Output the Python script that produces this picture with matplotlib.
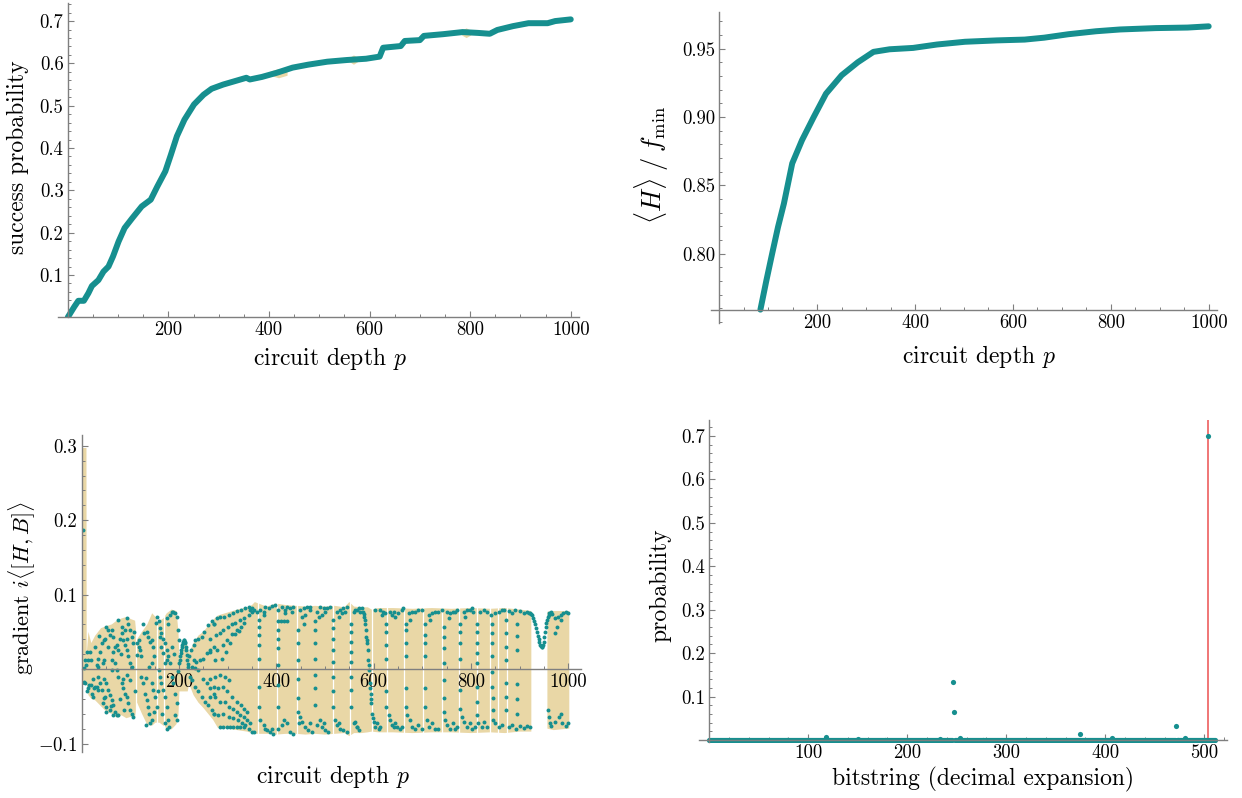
import numpy as np
import matplotlib
matplotlib.use("Agg")
import matplotlib.pyplot as plt
from matplotlib.ticker import FixedLocator, MultipleLocator

plt.rcParams['font.family'] = 'cmr10'
plt.rcParams['mathtext.fontset'] = 'cm'
plt.rcParams['axes.unicode_minus'] = False
plt.rcParams['axes.formatter.use_mathtext'] = True

TEAL = '#168f8f'
TAN = '#e9d7a6'
RED = '#ef6b6b'
GRAY = '#7f7f7f'

# ---- top left: success probability vs circuit depth
succ_p = [0, 13, 21, 32, 41, 48, 61, 71, 81, 90, 101, 113, 128, 147, 165, 178, 194, 205,
          217, 232, 251, 270, 286, 309, 332, 355, 362, 386, 416, 447, 478, 516, 555, 593,
          620, 627, 662, 670, 700, 708, 746, 785, 816, 839, 854, 885, 916, 954, 969, 1000]
succ_v = [0.0, 0.025, 0.039, 0.039, 0.057, 0.074, 0.088, 0.108, 0.12, 0.144, 0.179, 0.211,
          0.234, 0.262, 0.278, 0.309, 0.345, 0.384, 0.428, 0.467, 0.503, 0.526, 0.54, 0.55,
          0.558, 0.566, 0.562, 0.568, 0.578, 0.59, 0.597, 0.604, 0.608, 0.611, 0.616, 0.637,
          0.641, 0.653, 0.655, 0.665, 0.669, 0.674, 0.672, 0.67, 0.679, 0.688, 0.695, 0.695,
          0.7, 0.704]
# faint tan wiggles behind the curve: (start, end, low, high)
succ_tan = [(402, 436, 0.566, 0.588), (560, 576, 0.598, 0.62), (783, 801, 0.661, 0.684)]

# ---- top right: <H>/f_min
energy_p = [84, 96, 108, 120, 132, 149, 169, 193, 218, 250, 283, 315, 348, 396, 445, 502,
            567, 624, 664, 713, 770, 819, 892, 957, 1000]
energy_v = [0.759, 0.78, 0.80, 0.8195, 0.8366, 0.866, 0.883, 0.90, 0.917, 0.9305, 0.94,
            0.9476, 0.9495, 0.9505, 0.953, 0.955, 0.956, 0.9566, 0.958, 0.9605, 0.9627,
            0.964, 0.965, 0.9654, 0.9663]

# ---- bottom left: gradient i<[H,B]>
grad_early = [
    (3.5, 0.187), (5.5, 0.001), (7, 0.012), (9, 0.005), (11, 0.023), (14, 0.012), (17, 0.023),
    (19, 0.012), (5, -0.017), (8, -0.019), (14, -0.026), (19, -0.022), (21, -0.033), (24, -0.037),
    (26, -0.026), (28, -0.024), (31, -0.024), (33, -0.028), (24, -0.013), (31, 0.005), (34, 0.014),
    (38, 0.023), (41, 0.035), (45, 0.039), (48, 0.041), (47, 0.012), (43, 0.008), (34, 0.003),
    (34, -0.010), (38, -0.019), (41, -0.028), (45, -0.039), (48, -0.037), (51, -0.051),
    (47, -0.013), (51, -0.019), (51, 0.057), (55, 0.052), (58, 0.046), (62, 0.052), (65, 0.043),
    (69, 0.030), (72, 0.032), (74, 0.026), (65, 0.023), (62, 0.012), (69, 0.008), (72, -0.001),
    (75, -0.010), (62, -0.001), (55, -0.028), (58, -0.035), (62, -0.042), (65, -0.048),
    (69, -0.057), (72, -0.062), (75, -0.062), (58, -0.055), (65, -0.062), (51, -0.057),
    (75, 0.066), (82, 0.048), (86, 0.039), (89, 0.032), (93, 0.026), (96, 0.017), (99, 0.008),
    (103, 0.003), (79, 0.041), (82, 0.057), (89, 0.052), (93, 0.041), (82, -0.019), (86, -0.026),
    (89, -0.033), (93, -0.037), (96, -0.046), (99, -0.055), (103, -0.060), (106, -0.064),
    (86, -0.013), (93, -0.008), (99, -0.015), (93, 0.068), (96, 0.061), (99, 0.052), (103, 0.043),
    (106, 0.035), (113, 0.035), (117, 0.030), (120, 0.026), (123, 0.017), (113, 0.019),
    (118, 0.039), (123, -0.010), (127, -0.019), (130, -0.033), (134, -0.042), (136, -0.051),
    (139, -0.060), (141, -0.073), (132, -0.075), (129, 0.048), (134, 0.050), (137, 0.043),
    (141, 0.037), (144, 0.039), (147, 0.030), (149, 0.017), (145, 0.008), (144, -0.019),
    (147, -0.028), (151, -0.037), (154, -0.051), (149, -0.057), (145, -0.069), (154, 0.070),
    (158, 0.064), (161, 0.055), (164, 0.048), (168, 0.041), (171, 0.035), (175, 0.026),
    (178, 0.017), (182, 0.008), (161, 0.043), (164, 0.030), (168, 0.021), (171, 0.008),
    (175, 0.012), (158, -0.001), (161, -0.010), (164, -0.019), (168, -0.028), (171, -0.037),
    (175, -0.051), (178, -0.069), (175, -0.080), (171, -0.073), (175, 0.068), (178, 0.061),
    (182, 0.073), (185, 0.077), (188, 0.077), (192, 0.075), (195, 0.070), (199, 0.052),
    (200, 0.039), (185, -0.010), (188, -0.019), (192, -0.033), (195, -0.046), (197, -0.069),
    (192, -0.062), (12, -0.030), (16, -0.021), (28, 0.030), (36, 0.045), (44, -0.045),
    (55, 0.030), (60, -0.050), (78, -0.040), (80, 0.020), (88, -0.055), (108, 0.050),
    (110, -0.030), (126, 0.061), (132, -0.012), (138, 0.003), (152, 0.062), (156, -0.030),
    (166, -0.061), (180, -0.078), (186, 0.030), (190, 0.020), (198, -0.002),
]
grad_bump = [
    (201, 0.008), (202, 0.012), (203, 0.017), (204, 0.021), (205, 0.026), (206, 0.029),
    (207, 0.032), (208, 0.035), (209, 0.037), (210, 0.039), (211, 0.039), (212, 0.037),
    (213, 0.035), (214, 0.030), (215, 0.026), (216, 0.019), (217, 0.012), (218, 0.007),
    (219, 0.003),
]
grad_fan = [
    (221, 0.017), (225, 0.026), (230, 0.032), (234, 0.039), (240, 0.041), (247, 0.043),
    (252, 0.050), (259, 0.059), (267, 0.064), (273, 0.061), (223, -0.010), (226, -0.015),
    (233, -0.024), (240, -0.030), (247, -0.037), (254, -0.044), (260, -0.048), (267, -0.055),
    (273, -0.060), (230, 0.012), (236, 0.010), (243, 0.012), (250, 0.014), (257, 0.021),
    (264, 0.026), (271, 0.030), (226, 0.003), (233, 0.001), (240, -0.001), (250, -0.013),
    (257, -0.019), (264, -0.026), (271, -0.033),
    (271, 0.061), (278, 0.068), (285, 0.070), (293, 0.070), (302, 0.073), (311, 0.076),
    (319, 0.078), (327, 0.080), (336, 0.082), (343, 0.083), (350, 0.082), (354, 0.079),
    (264, 0.041), (276, 0.046), (285, 0.049), (291, 0.052), (300, 0.056), (308, 0.060),
    (316, 0.062), (326, 0.066), (333, 0.068), (343, 0.073), (350, 0.077),
    (264, 0.023), (278, 0.026), (290, 0.032), (298, 0.039), (309, 0.047), (319, 0.052),
    (327, 0.056), (333, 0.062), (345, 0.079),
    (274, 0.012), (288, 0.014), (297, 0.023), (305, 0.035), (315, 0.047), (324, 0.051),
    (264, -0.013), (274, -0.010), (285, -0.008), (295, -0.010), (302, -0.015),
    (271, -0.024), (281, -0.026), (291, -0.024), (298, -0.030), (309, -0.037), (319, -0.044),
    (327, -0.048), (333, -0.053), (339, -0.057),
    (264, -0.037), (274, -0.037), (285, -0.044), (295, -0.044), (302, -0.051), (312, -0.053),
    (319, -0.057), (326, -0.062), (333, -0.064), (339, -0.069), (345, -0.073),
    (271, -0.060), (281, -0.062), (291, -0.060), (302, -0.064), (312, -0.066), (322, -0.069),
    (329, -0.072), (336, -0.075), (343, -0.080), (350, -0.084), (354, -0.084),
    (285, -0.078), (291, -0.078), (298, -0.078), (305, -0.078), (312, -0.078), (319, -0.078),
    (326, -0.078), (333, -0.078),
]
grad_cycles = [
    (365, 0.066), (365, 0.057), (365, 0.046), (365, 0.032), (365, 0.014), (365, -0.024),
    (365, -0.051), (360, 0.077), (367, 0.079), (374, 0.077), (377, 0.084), (384, 0.082),
    (391, 0.085), (398, 0.086), (374, 0.073), (367, -0.069), (374, -0.075), (377, -0.080),
    (380, -0.082), (387, -0.084), (394, -0.087), (391, -0.080),
    (403, 0.064), (403, 0.052), (403, 0.041), (403, 0.028), (403, 0.005), (403, -0.022),
    (403, -0.051), (404, 0.079), (411, 0.084), (418, 0.079), (422, 0.084), (428, 0.082),
    (435, 0.084), (409, 0.064), (415, 0.064), (422, 0.064), (418, 0.075), (432, 0.077),
    (404, -0.080), (411, -0.075), (415, -0.069), (422, -0.073), (428, -0.084), (435, -0.087),
    (444, 0.052), (444, 0.035), (444, 0.012), (444, -0.013), (444, -0.039), (444, -0.057),
    (449, 0.079), (456, 0.082), (463, 0.084), (470, 0.084), (452, 0.070), (459, 0.073),
    (470, 0.079), (456, 0.061), (446, -0.073), (449, -0.064), (452, -0.071), (459, -0.078),
    (466, -0.082), (473, -0.084), (470, -0.073),
    (480, 0.064), (480, 0.052), (480, 0.035), (480, 0.014), (480, -0.008), (480, -0.026),
    (480, -0.048), (483, 0.077), (490, 0.084), (497, 0.082), (504, 0.082), (511, 0.084),
    (500, 0.077), (487, 0.070), (494, 0.073), (483, -0.075), (490, -0.069), (494, -0.078),
    (500, -0.082), (507, -0.084), (497, -0.073),
    (517, 0.066), (517, 0.055), (517, 0.041), (517, 0.026), (517, 0.010), (517, -0.010),
    (517, -0.030), (517, -0.051), (524, 0.077), (531, 0.079), (538, 0.082), (545, 0.084),
    (528, 0.070), (535, 0.075), (541, 0.077), (521, -0.069), (524, -0.075), (531, -0.080),
    (538, -0.082), (545, -0.084), (528, -0.073),
    (553, 0.061), (553, 0.050), (553, 0.037), (553, 0.023), (553, 0.010), (553, -0.010),
    (553, -0.028), (553, -0.051), (559, 0.077), (565, 0.079), (559, -0.073), (565, -0.078),
    (562, 0.079), (569, 0.082), (572, 0.077), (576, 0.082), (579, 0.077), (580, 0.074),
    (581, 0.070), (582, 0.066), (583, 0.061), (584, 0.052), (585, 0.043), (586, 0.039),
    (587, 0.035), (588, 0.026), (589, 0.012), (590, 0.006), (591, -0.001), (592, -0.019),
    (593, -0.026), (594, -0.033), (594.5, -0.040), (595, -0.046), (596, -0.060), (598, -0.066),
    (600, -0.071), (603, -0.078), (607, -0.073), (610, -0.080), (613, -0.078), (562, -0.071),
    (565, -0.078), (569, -0.082),
    (603, 0.079), (613, 0.079), (620, 0.077), (624, 0.075), (617, 0.073),
    (626, 0.061), (626, 0.050), (626, 0.032), (626, 0.014), (626, -0.030), (626, -0.051),
    (631, -0.062), (634, -0.069), (637, -0.075), (641, -0.078), (644, -0.073), (648, -0.078),
    (655, -0.080), (658, -0.078), (634, 0.077), (637, 0.073), (641, 0.077), (644, 0.070),
    (651, 0.075), (658, 0.079), (661, 0.082),
    (666, 0.061), (666, 0.052), (666, 0.035), (666, 0.017), (666, -0.026), (666, -0.051),
    (668, -0.062), (675, -0.069), (679, -0.078), (685, -0.080), (692, -0.075), (699, -0.080),
    (672, 0.075), (679, 0.077), (685, 0.077), (692, 0.079), (699, 0.079), (675, 0.066),
    (706, 0.061), (706, 0.046), (706, 0.035), (706, 0.017), (706, -0.026), (706, -0.051),
    (709, -0.069), (713, -0.078), (720, -0.073), (726, -0.080), (733, -0.080),
    (713, 0.073), (720, 0.075), (726, 0.077), (733, 0.077), (740, 0.079), (716, 0.066),
    (744, 0.057), (744, 0.043), (744, 0.028), (744, 0.008), (744, -0.015), (744, -0.039),
    (744, -0.057), (747, -0.069), (750, -0.075), (757, -0.080), (764, -0.073), (768, -0.080),
    (771, -0.078), (750, 0.077), (757, 0.075), (764, 0.077), (768, 0.077), (771, 0.079),
    (754, 0.068),
    (778, 0.061), (778, 0.050), (778, 0.035), (778, 0.014), (778, -0.028), (778, -0.053),
    (781, -0.064), (785, -0.071), (792, -0.078), (798, -0.073), (802, -0.080), (809, -0.078),
    (785, 0.077), (792, 0.079), (798, 0.079), (802, 0.082), (805, 0.077), (788, 0.070),
    (812, 0.061), (812, 0.050), (812, 0.035), (812, 0.021), (812, 0.008), (812, -0.024),
    (812, -0.044), (812, -0.062), (815, -0.073), (822, -0.078), (826, -0.071), (833, -0.078),
    (819, 0.077), (826, 0.079), (833, 0.077),
    (842, 0.073), (843, 0.061), (843, 0.048), (843, 0.035), (843, 0.017), (844, -0.004),
    (844, -0.024), (845, -0.039), (845, -0.055), (846, -0.069), (850, 0.075), (857, 0.077),
    (863, 0.079), (867, 0.079), (850, -0.073), (857, -0.078), (863, -0.075),
]
grad_late = [
    (871, 0.066), (871, 0.048), (871, 0.030), (871, 0.012), (871, -0.019), (871, -0.037),
    (871, -0.055), (878, 0.078), (885, 0.075), (890, 0.080), (900, 0.078), (908, 0.076),
    (915, 0.077), (920, 0.075), (878, -0.078), (885, -0.075), (892, -0.080), (900, -0.077),
    (908, -0.079), (915, -0.077), (922, -0.078), (894, 0.060), (894, 0.045), (894, 0.025),
    (894, -0.020), (894, -0.040), (894, -0.060),
    (922, 0.075), (924, 0.074), (926, 0.072), (928, 0.069), (930, 0.065), (932, 0.060),
    (934, 0.055), (936, 0.050), (937, 0.045), (939, 0.040), (940, 0.036), (942, 0.033),
    (943, 0.031), (945, 0.030), (946, 0.030), (948, 0.033), (949, 0.036), (951, 0.043),
    (952, 0.050), (954, 0.056), (955, 0.062), (957, 0.066), (958, 0.070), (960, 0.073),
    (961, 0.075), (964, 0.077),
    (966, 0.074), (972, 0.068), (978, 0.070), (985, 0.072), (990, 0.075), (995, 0.077),
    (1000, 0.075), (977, 0.057), (984, 0.066), (973, 0.048), (958, -0.055), (960, -0.065),
    (962, -0.073), (965, -0.076), (973, -0.071), (980, -0.064), (984, -0.060), (988, -0.073),
    (996, -0.076), (1000, -0.073),
]
# tan band behind the gradient points (upper / lower edge), nan = no band
band_p = [0, 10, 10.5, 14, 20, 28, 40, 52, 62, 72, 82, 92, 102, 110, 114, 124, 135, 145, 152,
          160, 168, 175, 185, 195, 199, 201, 206, 212, 218, 221, 230, 240, 250, 260, 270, 280,
          300, 320, 340, 350, 356, 380, 400, 420, 440, 460, 480, 500, 520, 540, 550, 560, 575,
          588, 596, 610, 640, 680, 720, 760, 800, 840, 870, 900, 924, 940, 957, 970, 985, 1002]
band_hi = [0.297, 0.297, 0.02, 0.05, 0.035, 0.045, 0.055, 0.058, 0.06, 0.065, 0.068, 0.07,
           0.067, 0.065, 0.04, 0.05, 0.06, 0.075, 0.07, 0.065, 0.068, 0.075, 0.08, 0.078, 0.05,
           0.012, 0.035, 0.041, 0.03, 0.022, 0.035, 0.045, 0.05, 0.058, 0.066, 0.072, 0.076,
           0.08, 0.083, 0.086, 0.09, 0.084, 0.088, 0.086, 0.085, 0.084, 0.085, 0.084, 0.085,
           0.083, 0.09, 0.084, 0.083, 0.083, 0.08, 0.082, 0.082, 0.081, 0.082, 0.081, 0.082,
           0.081, 0.082, 0.08, 0.078, np.nan, 0.077, 0.078, 0.078, 0.078]
band_lo = [-0.02, -0.02, -0.02, -0.035, -0.04, -0.042, -0.05, -0.058, -0.06, -0.065, -0.062,
           -0.066, -0.064, -0.065, -0.045, -0.06, -0.075, -0.076, -0.072, -0.072, -0.076, -0.08,
           -0.081, -0.074, -0.062, -0.03, -0.03, -0.03, -0.03, -0.02, -0.035, -0.045, -0.052,
           -0.06, -0.068, -0.079, -0.08, -0.082, -0.084, -0.086, -0.087, -0.087, -0.088,
           -0.087, -0.087, -0.088, -0.087, -0.088, -0.087, -0.086, -0.09, -0.086, -0.086,
           -0.085, -0.084, -0.085, -0.085, -0.086, -0.085, -0.085, -0.086, -0.085, -0.086,
           -0.084, -0.084, np.nan, -0.08, -0.082, -0.081, -0.08]
band_breaks = [111, 155, 170, 362, 401, 443, 516, 552, 596, 627, 663, 702, 741, 776, 812,
               839, 856, 873]

# ---- bottom right: final probability distribution over 512 bitstrings
n_bits = 512
peak_idx = [118, 150, 233, 246, 247, 253, 375, 407, 471, 481, 504]
peak_prob = [0.008, 0.003, 0.002, 0.133, 0.064, 0.005, 0.013, 0.005, 0.033, 0.004, 0.70]
answer = 504

W, H = 1242, 798
fig = plt.figure(figsize=(W / 100, H / 100), dpi=100)


def add_ax(left, top, right, bottom):
    return fig.add_axes([left / W, 1 - bottom / H, (right - left) / W, (bottom - top) / H])


def mm_axes(ax, xorigin, yorigin, xmaj, xmin_step, ymaj, ymin_step, ylabels):
    for s in ['top', 'right']:
        ax.spines[s].set_visible(False)
    ax.spines['left'].set_position(('data', xorigin))
    ax.spines['bottom'].set_position(('data', yorigin))
    for s in ['left', 'bottom']:
        ax.spines[s].set_color(GRAY)
        ax.spines[s].set_linewidth(1.0)
    ax.xaxis.set_major_locator(FixedLocator(xmaj))
    ax.xaxis.set_minor_locator(MultipleLocator(xmin_step))
    ax.set_xticklabels([str(v) for v in xmaj])
    ax.yaxis.set_major_locator(FixedLocator(ymaj))
    ax.yaxis.set_minor_locator(MultipleLocator(ymin_step))
    ax.set_yticklabels(ylabels)
    ax.tick_params(which='both', direction='in', color=GRAY, labelsize=13.5)
    ax.tick_params(which='major', length=4.5, width=0.8, pad=3)
    ax.tick_params(which='minor', length=2.5, width=0.7)


LBL = 17

# top left
ax1 = add_ax(57.7, 3.3, 578.8, 317.3)
for a, b, lo, hi in succ_tan:
    ax1.fill_between([a, (a + b) / 2, b], [lo + 0.006, lo, lo + 0.006],
                     [hi - 0.006, hi, hi - 0.006], color=TAN, lw=0)
ax1.plot(succ_p, succ_v, color=TEAL, lw=4.3, solid_capstyle='round', solid_joinstyle='round')
ax1.set_xlim(-20, 1016)
ax1.set_ylim(0, 0.742)
mm_axes(ax1, 0, 0, [200, 400, 600, 800, 1000], 50,
        [0.1, 0.2, 0.3, 0.4, 0.5, 0.6, 0.7], 0.02,
        ['0.1', '0.2', '0.3', '0.4', '0.5', '0.6', '0.7'])
ax1.set_xlabel('circuit depth $p$', fontsize=LBL)
ax1.set_ylabel('success probability', fontsize=LBL)
ax1.xaxis.set_label_coords(0.5225, -0.088)
ax1.yaxis.set_label_coords(-0.056, 0.51)

# top right
ax2 = add_ax(710.5, 11.7, 1217, 323.3)
ax2.plot(energy_p, energy_v, color=TEAL, lw=4.3, solid_capstyle='round', solid_joinstyle='round')
ax2.set_xlim(-18, 1017)
ax2.set_ylim(0.749, 0.977)
mm_axes(ax2, 0, 0.759, [200, 400, 600, 800, 1000], 50,
        [0.80, 0.85, 0.90, 0.95], 0.01, ['0.80', '0.85', '0.90', '0.95'])
ax2.set_xlabel('circuit depth $p$', fontsize=LBL)
ax2.set_ylabel(r'$\langle H\rangle\;/\;f_{\rm min}$', fontsize=19)
ax2.xaxis.set_label_coords(0.53, -0.063)
ax2.yaxis.set_label_coords(-0.077, 0.508)

# bottom left
ax3 = add_ax(81.6, 435, 580.5, 751.7)
ax3.fill_between(band_p, band_lo, band_hi, color=TAN, lw=0, zorder=1)
ax3.vlines(band_breaks, -0.095, 0.095, color='white', lw=0.9, zorder=1.2)
for seg in [grad_early, grad_bump, grad_fan, grad_cycles, grad_late]:
    px, gy = zip(*seg)
    ax3.scatter(px, gy, s=8, color=TEAL, lw=0, zorder=2)
ax3.set_xlim(0, 1025)
ax3.set_ylim(-0.111, 0.3145)
mm_axes(ax3, 0, 0, [200, 400, 600, 800, 1000], 50,
        [-0.1, 0.1, 0.2, 0.3], 0.02, ['$-0.1$', '0.1', '0.2', '0.3'])
ax3.set_xlabel('circuit depth $p$', fontsize=LBL)
ax3.set_ylabel(r'gradient $i\langle[H,B]\rangle$', fontsize=16)
ax3.xaxis.set_label_coords(0.504, -0.036)
ax3.yaxis.set_label_coords(-0.087, 0.515)

# bottom right
probs = np.zeros(n_bits)
probs[peak_idx] = peak_prob
ax4 = add_ax(699.4, 420, 1227, 742.2)
ax4.axvline(answer, color=RED, lw=1.3, zorder=1)
ax4.scatter(np.arange(n_bits), probs, s=14, color=TEAL, lw=0, zorder=2)
ax4.set_xlim(-10, 523)
ax4.set_ylim(-0.005, 0.737)
mm_axes(ax4, 0, 0, [100, 200, 300, 400, 500], 20,
        [0.1, 0.2, 0.3, 0.4, 0.5, 0.6, 0.7], 0.02,
        ['0.1', '0.2', '0.3', '0.4', '0.5', '0.6', '0.7'])
for s in ['left', 'bottom']:
    ax4.spines[s].set_zorder(3)
ax4.set_xlabel('bitstring (decimal expansion)', fontsize=LBL)
ax4.set_ylabel('probability', fontsize=LBL)
ax4.xaxis.set_label_coords(0.5375, -0.076)
ax4.yaxis.set_label_coords(-0.053, 0.488)

fig.savefig('out.png', dpi=100)
